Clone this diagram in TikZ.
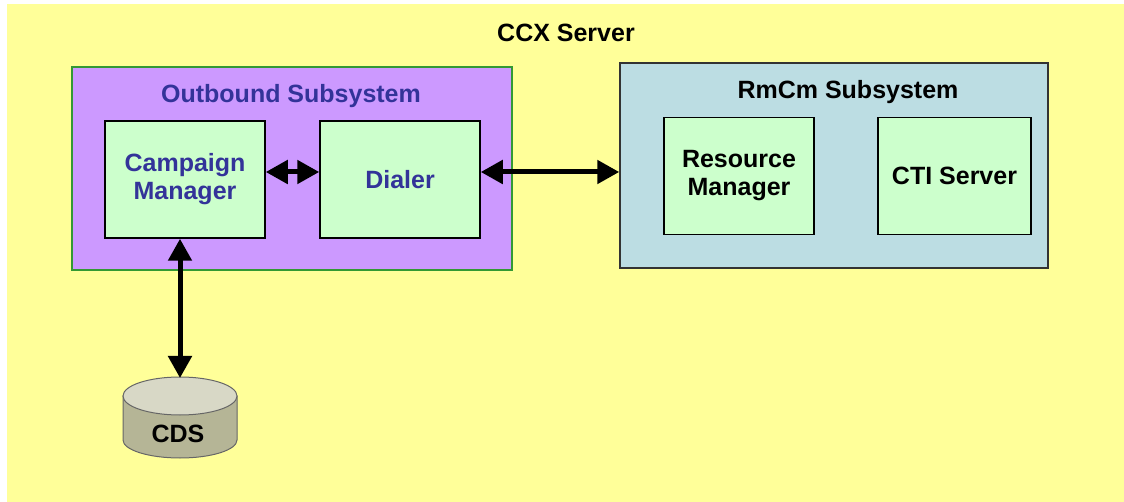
\documentclass[tikz,border=0pt]{standalone}
\usepackage{fontspec}
\setmainfont{Liberation Sans}
\usetikzlibrary{arrows.meta}
\definecolor{ccxyellow}{HTML}{FFFF99}
\definecolor{outpurple}{HTML}{CC99FF}
\definecolor{outgreen}{HTML}{339933}
\definecolor{rmblue}{HTML}{BCDDE3}
\definecolor{unitgreen}{HTML}{CCFFCC}
\definecolor{navytext}{HTML}{333399}
\definecolor{cdsbody}{HTML}{B5B596}
\definecolor{cdstop}{HTML}{D8D8C6}
\tikzset{
  bigfont/.style={font=\bfseries\fontsize{25}{28}\selectfont},
  unit/.style={draw=black,line width=1.5pt,fill=unitgreen,minimum width=#1,minimum height=117pt,align=center,inner sep=0pt,bigfont},
  link/.style={line width=5pt,{Triangle[length=22pt,width=23pt]}-{Triangle[length=22pt,width=23pt]}}
}

\begin{document}
\begin{tikzpicture}[x=1pt,y=1pt]
	\useasboundingbox (0,0) rectangle (1124,-502);
	\fill[ccxyellow] (7,-4) rectangle (1124,-502);
	\node[bigfont] (ccx) at (566,-33) {CCX Server};

	\node[draw=outgreen,line width=1.5pt,fill=outpurple,minimum width=440pt,minimum height=203pt] (outb) at (292,-168.5) {};
	\node[bigfont,text=navytext] (outbtitle) at (291,-96) {Outbound Subsystem};
	\node[unit=160pt,text=navytext] (cm) at (185,-179.5) {Campaign\\Manager};
	\node[unit=160pt,text=navytext] (dial) at (400,-179.5) {Dialer};

	\node[draw=black!80,line width=1.5pt,fill=rmblue,minimum width=428pt,minimum height=205pt] (rmcm) at (834,-165.5) {};
	\node[bigfont] (rmcmtitle) at (848,-92) {RmCm Subsystem};
	\node[unit=150pt] (rm) at (739,-176) {Resource\\Manager};
	\node[unit=153pt] (cti) at (954.5,-176) {CTI Server};

	\fill[cdsbody,draw=black!60,line width=1pt] (123,-396) -- (123,-440) arc (180:360:57pt and 18pt) -- (237,-396) -- cycle;
	\fill[cdstop,draw=black!60,line width=1pt] (180,-396) ellipse (57pt and 19pt);
	\coordinate (cds) at (180,-378);
	\node[bigfont] (cdslabel) at (178,-434) {CDS};

	\draw[link] ([yshift=7.5pt]cm.east) -- ([yshift=7.5pt]dial.west);
	\draw[link] ([yshift=7.5pt]dial.east) -- ([yshift=7.5pt]dial.east -| rmcm.west);
	\draw[link] ([xshift=-5pt]cm.south) -- (cds);
\end{tikzpicture}
\end{document}
